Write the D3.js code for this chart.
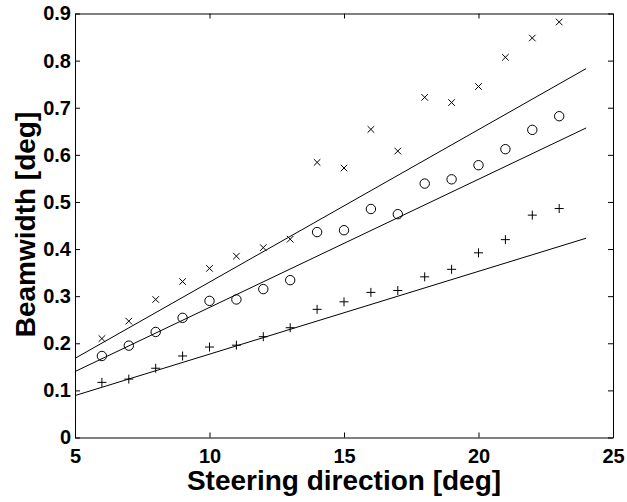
<!DOCTYPE html>
<html>
<head>
<meta charset="utf-8">
<script src="https://cdn.jsdelivr.net/npm/d3@7"></script>
<style>
  body { margin: 0; background: #fff; }
  text { font-family: "Liberation Sans", Arial, sans-serif; font-weight: bold; }
</style>
</head>
<body>
<div id="chart"></div>
<script>
// steering direction [deg] of each measurement
const steering = [6, 7, 8, 9, 10, 11, 12, 13, 14, 15, 16, 17, 18, 19, 20, 21, 22, 23];
// beamwidth [deg] per marker series
const crossVals = [0.210, 0.247, 0.293, 0.331, 0.359, 0.385, 0.403, 0.421, 0.584, 0.572, 0.654, 0.608, 0.722, 0.711, 0.745, 0.807, 0.848, 0.882];
const circleVals = [0.173, 0.195, 0.224, 0.254, 0.290, 0.293, 0.315, 0.334, 0.436, 0.440, 0.485, 0.474, 0.539, 0.548, 0.578, 0.612, 0.653, 0.682];
const plusVals = [0.117, 0.124, 0.147, 0.173, 0.192, 0.196, 0.214, 0.233, 0.272, 0.288, 0.308, 0.312, 0.341, 0.357, 0.392, 0.420, 0.472, 0.486];
// straight fitted lines, end points
const fitX = [5, 24];
const crossFit = [0.168, 0.783];
const circleFit = [0.140, 0.657];
const plusFit = [0.089, 0.423];
const xTicks = [5, 10, 15, 20, 25];
const yTicks = [0, 0.1, 0.2, 0.3, 0.4, 0.5, 0.6, 0.7, 0.8, 0.9];

const W = 627, H = 502;
const margin = {left: 75, top: 13.5, right: 14, bottom: 64.5};
const w = W - margin.left - margin.right;
const h = H - margin.top - margin.bottom;

const svg = d3.select("#chart").append("svg")
  .attr("width", W).attr("height", H);
const g = svg.append("g").attr("transform", `translate(${margin.left},${margin.top})`);

const x = d3.scaleLinear().domain([5, 25]).range([0, w]);
const y = d3.scaleLinear().domain([0, 0.9]).range([h, 0]);

function styleAxis(sel) {
  sel.selectAll("path, line").attr("stroke", "#000").attr("stroke-width", 1);
  sel.selectAll("text").attr("fill", "#000").style("font-size", "20px");
}

g.append("g").attr("transform", `translate(0,${h})`)
  .call(d3.axisBottom(x).tickValues(xTicks).tickSizeInner(-5).tickSizeOuter(0).tickPadding(11).tickFormat(d3.format("d")))
  .call(styleAxis);
g.append("g")
  .call(d3.axisLeft(y).tickValues(yTicks).tickSizeInner(-5).tickSizeOuter(0).tickPadding(4).tickFormat(d => d === 0 ? "0" : d3.format(".1f")(d)))
  .call(styleAxis);
g.append("g")
  .call(d3.axisTop(x).tickValues(xTicks).tickSizeInner(-5).tickSizeOuter(0).tickFormat(""))
  .call(styleAxis);
g.append("g").attr("transform", `translate(${w},0)`)
  .call(d3.axisRight(y).tickValues(yTicks).tickSizeInner(-5).tickSizeOuter(0).tickFormat(""))
  .call(styleAxis);

// fitted lines
const line = d3.line().x(d => x(d[0])).y(d => y(d[1]));
[crossFit, circleFit, plusFit].forEach(f => {
  g.append("path")
    .datum(fitX.map((v, i) => [v, f[i]]))
    .attr("d", line)
    .attr("fill", "none").attr("stroke", "#000").attr("stroke-width", 1);
});

// markers
const crossSym = d3.symbol().type(d3.symbolX).size(30);
g.selectAll(".cross").data(crossVals).enter().append("path")
  .attr("class", "cross")
  .attr("transform", (d, i) => `translate(${x(steering[i])},${y(d)})`)
  .attr("d", crossSym)
  .attr("fill", "none").attr("stroke", "#000").attr("stroke-width", 1);

g.selectAll(".circ").data(circleVals).enter().append("circle")
  .attr("class", "circ")
  .attr("cx", (d, i) => x(steering[i]))
  .attr("cy", d => y(d))
  .attr("r", 4.7)
  .attr("fill", "none").attr("stroke", "#000").attr("stroke-width", 1);

g.selectAll(".plus").data(plusVals).enter().append("path")
  .attr("class", "plus")
  .attr("transform", (d, i) => `translate(${x(steering[i])},${y(d)})`)
  .attr("d", d3.line()([[-4.5, 0], [4.5, 0]]) + d3.line()([[0, -4.5], [0, 4.5]]))
  .attr("fill", "none").attr("stroke", "#000").attr("stroke-width", 1);

// axis titles
svg.append("text")
  .attr("x", margin.left + w / 2).attr("y", 490)
  .attr("text-anchor", "middle")
  .style("font-size", "28px")
  .text("Steering direction [deg]");

svg.append("text")
  .attr("transform", `translate(35,${margin.top + h / 2 - 1}) rotate(-90)`)
  .attr("text-anchor", "middle")
  .style("font-size", "28px")
  .text("Beamwidth [deg]");
</script>
</body>
</html>
